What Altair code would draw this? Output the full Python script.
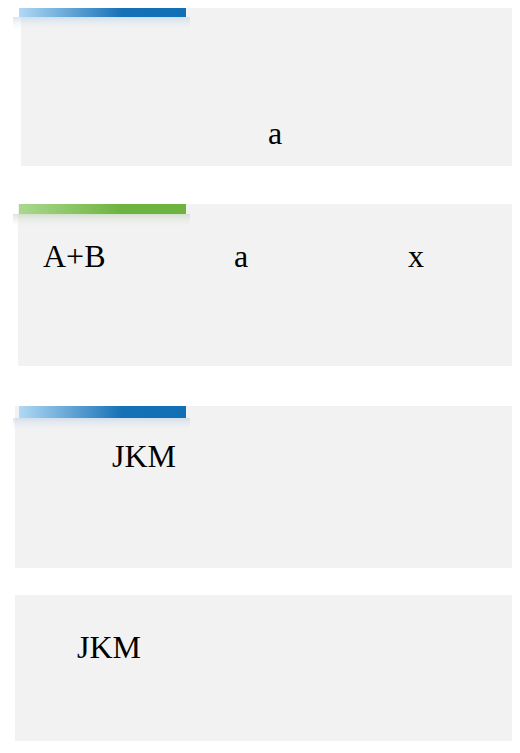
import altair as alt
import pandas as pd

# --- layout data (page pixel coordinates) ---
panel_x0 = [21, 18, 15, 15]
panel_y0 = [4, 204, 406, 595]
panel_y1 = [166, 366, 568, 753]

bar_x0 = [19, 19, 19]
bar_x1 = [186, 186, 186]
bar_y0 = [4, 204, 406]
bar_y1 = [17, 214, 418]
bar_kind = ["blue", "green", "blue"]

labels = ["a", "A+B", "a", "x", "JKM", "JKM"]
label_x = [268, 43, 234, 408, 112, 77]
label_y = [144, 267, 267, 267, 467, 658]

W, H = 512, 741
X = alt.Scale(domain=[8, W], nice=False, zero=False)
Y = alt.Scale(domain=[8, H], nice=False, zero=False, reverse=True)

panels = pd.DataFrame({"x0": panel_x0, "x1": [W] * 4, "y0": panel_y0, "y1": panel_y1})
panel_layer = alt.Chart(panels).mark_rect(color="#f2f2f2", clip=True).encode(
    x=alt.X("x0:Q", scale=X, axis=None),
    x2="x1:Q",
    y=alt.Y("y0:Q", scale=Y, axis=None),
    y2="y1:Q",
)

grad = {
    "blue": (["#b0d9f4", "#1670b6", "#1170b5"], "rgba(170,200,228,0.45)"),
    "green": (["#aad88e", "#6db33f", "#6db33f"], "rgba(175,200,165,0.45)"),
}

layers = [panel_layer]
for i in range(len(bar_y0)):
    cols, shadow = grad[bar_kind[i]]
    sh = pd.DataFrame({"x0": [bar_x0[i] - 6], "x1": [bar_x1[i] + 4],
                       "y0": [bar_y1[i]], "y1": [bar_y1[i] + 14]})
    layers.append(
        alt.Chart(sh).mark_rect(
            clip=True,
            color=alt.Gradient(
                gradient="linear", x1=0, y1=0, x2=0, y2=1,
                stops=[alt.GradientStop(color=shadow, offset=0),
                       alt.GradientStop(color="rgba(242,242,242,0)", offset=1)],
            )
        ).encode(x=alt.X("x0:Q", scale=X, axis=None), x2="x1:Q",
                 y=alt.Y("y0:Q", scale=Y, axis=None), y2="y1:Q")
    )
    b = pd.DataFrame({"x0": [bar_x0[i]], "x1": [bar_x1[i]],
                      "y0": [bar_y0[i]], "y1": [bar_y1[i]]})
    layers.append(
        alt.Chart(b).mark_rect(
            clip=True,
            color=alt.Gradient(
                gradient="linear", x1=0, y1=0, x2=1, y2=0,
                stops=[alt.GradientStop(color=cols[0], offset=0),
                       alt.GradientStop(color=cols[1], offset=0.62),
                       alt.GradientStop(color=cols[2], offset=1)],
            )
        ).encode(x=alt.X("x0:Q", scale=X, axis=None), x2="x1:Q",
                 y=alt.Y("y0:Q", scale=Y, axis=None), y2="y1:Q")
    )

texts = pd.DataFrame({"t": labels, "x": label_x, "y": label_y})
layers.append(
    alt.Chart(texts).mark_text(
        font="Liberation Serif", fontSize=32, color="#000000",
        align="left", baseline="alphabetic",
    ).encode(x=alt.X("x:Q", scale=X, axis=None),
             y=alt.Y("y:Q", scale=Y, axis=None), text="t:N")
)

chart = alt.layer(*layers).properties(
    width=W - 8, height=H - 8, autosize=alt.AutoSizeParams(type="none"), padding=0
).configure_view(stroke=None)

chart.save("out.html", embed_options={"renderer": "svg", "actions": False})
